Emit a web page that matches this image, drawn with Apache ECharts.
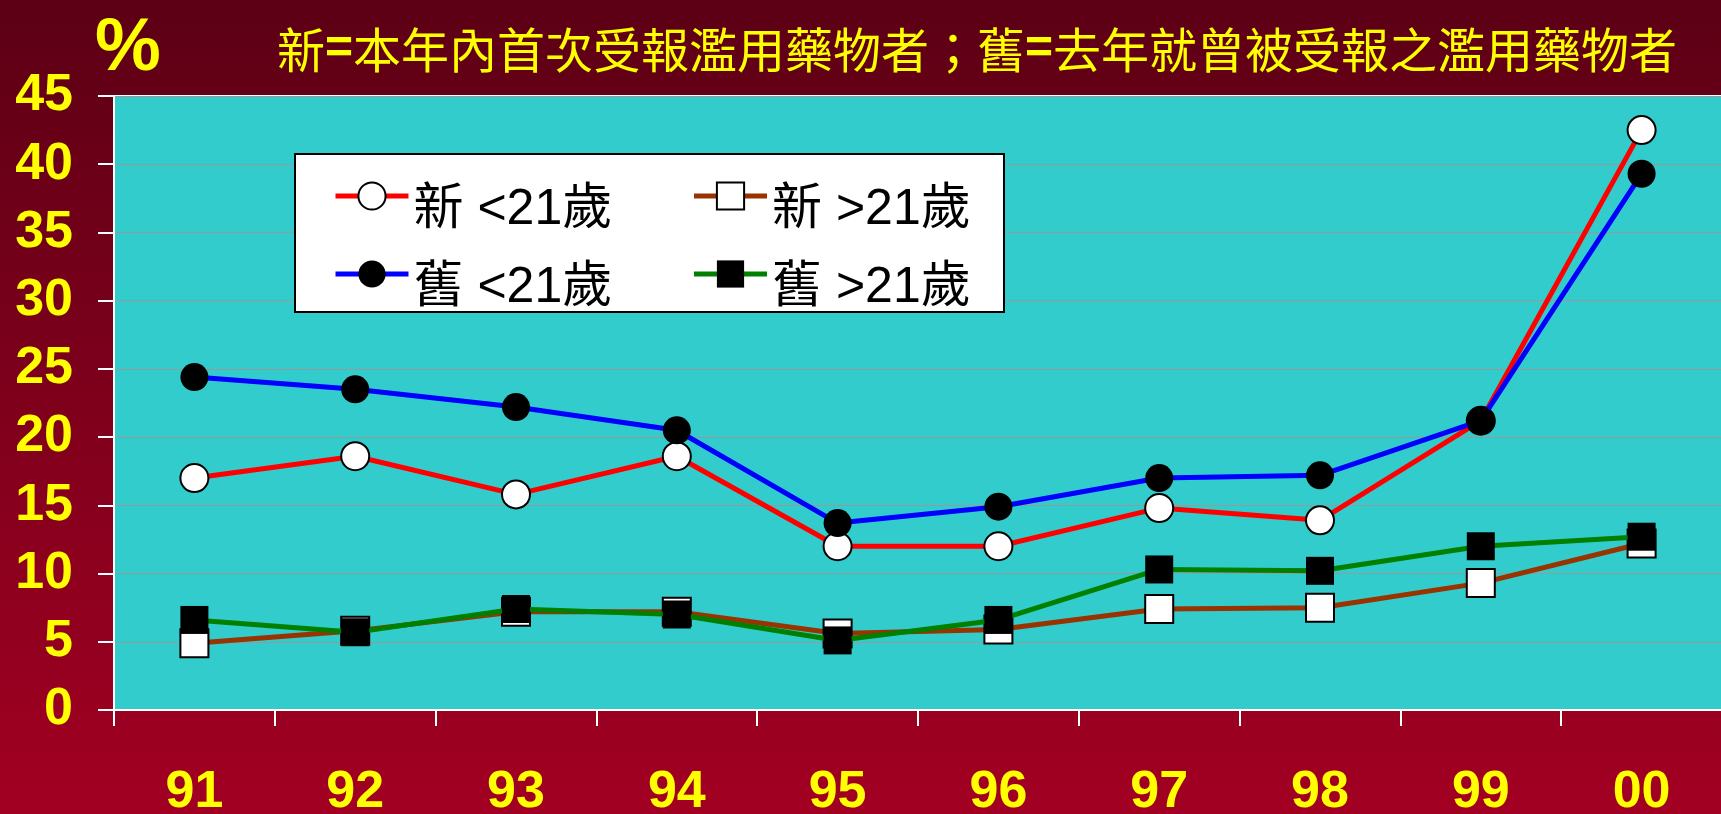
<!DOCTYPE html>
<html>
<head>
<meta charset="utf-8">
<script src="https://cdn.jsdelivr.net/npm/echarts@6/dist/echarts.min.js"></script>
<style>
html,body{margin:0;padding:0;background:#7a001b;}
#chart{width:1721px;height:814px;}
</style>
</head>
<body>
<div id="chart"></div>
<script>
// ---- data ----
const years = ['91','92','93','94','95','96','97','98','99','00'];
const seriesNames = ['新 <21歲','新 >21歲','舊 <21歲','舊 >21歲'];
const newUnder21 = [17.0, 18.6, 15.8, 18.6, 12.0, 12.0, 14.8, 13.9, 21.2, 42.5];
const newOver21  = [4.9, 5.8, 7.2, 7.2, 5.6, 5.9, 7.4, 7.5, 9.3, 12.2];
const oldUnder21 = [24.4, 23.5, 22.2, 20.5, 13.7, 14.9, 17.0, 17.2, 21.2, 39.3];
const oldOver21  = [6.6, 5.7, 7.4, 7.0, 5.1, 6.6, 10.3, 10.2, 12.0, 12.7];
const yTicks = {min: 0, max: 45, interval: 5};
const unitText = '%';
const noteText = '{a|新}{b|=}{a|本年內首次受報濫用藥物者；舊}{b|=}{a|去年就曾被受報之濫用藥物者}';

const latin = '"Liberation Sans", Arial, "Noto Sans CJK TC", sans-serif';
const yellow = '#FFFF00';

const chart = echarts.init(document.getElementById('chart'), null, {renderer: 'canvas'});

function lineSeries(name, data, color, symbol, fill, border, z) {
  return {
    name: name,
    type: 'line',
    data: data,
    z: z,
    symbol: symbol,
    symbolSize: 28,
    showAllSymbol: true,
    lineStyle: {color: color, width: 5},
    itemStyle: {color: fill, borderColor: border, borderWidth: border ? 2 : 0},
    emphasis: {disabled: true}
  };
}

const legendText = {
  color: '#000', fontSize: 50, fontFamily: latin,
  rich: {
    t: {color: '#000', fontSize: 50, fontFamily: latin, lineHeight: 40,
        width: 240, padding: [28, 0, 0, 0]}
  }
};

function legendAt(names, top) {
  return {
    data: names, left: 333, top: top, padding: 0,
    itemWidth: 73, itemHeight: 34, itemGap: 38, z: 6,
    formatter: '{t|{name}}',
    textStyle: legendText,
    lineStyle: {width: 5}
  };
}

chart.setOption({
  animation: false,
  backgroundColor: {
    type: 'linear', x: 0, y: 0, x2: 0, y2: 1,
    colorStops: [{offset: 0, color: '#5c0015'}, {offset: 1, color: '#a20022'}]
  },
  title: [
    {text: unitText, left: 90, top: 8,
     textStyle: {color: yellow, fontSize: 74, fontWeight: 'bold', fontFamily: latin}},
    {text: noteText, left: 272, top: 21,
     textStyle: {rich: {
       a: {color: yellow, fontSize: 48, fontFamily: '"Noto Sans CJK TC", sans-serif', fontWeight: 'normal'},
       b: {color: yellow, fontSize: 48, fontFamily: latin, fontWeight: 'bold'}
     }}}
  ],
  grid: {
    left: 114, top: 96, right: -1, bottom: 104,
    outerBoundsMode: 'none', containLabel: false,
    show: true, backgroundColor: '#33CCCC', borderColor: '#ffffff', borderWidth: 2
  },
  graphic: [{
    type: 'rect', z: 5,
    shape: {x: 295, y: 154, width: 709, height: 158},
    style: {fill: '#ffffff', stroke: '#000000', lineWidth: 2}
  }],
  legend: [
    legendAt([seriesNames[0], seriesNames[1]], 157),
    legendAt([seriesNames[2], seriesNames[3]], 235)
  ],
  xAxis: {
    type: 'category',
    data: years,
    boundaryGap: true,
    axisLine: {lineStyle: {color: '#ffffff', width: 2}},
    axisTick: {show: true, length: 16, lineStyle: {color: '#ffffff', width: 2}},
    axisLabel: {color: yellow, fontSize: 52, fontWeight: 'bold', fontFamily: latin, margin: 57},
    splitLine: {show: false}
  },
  yAxis: {
    type: 'value',
    min: yTicks.min, max: yTicks.max, interval: yTicks.interval,
    axisLine: {show: true, lineStyle: {color: '#ffffff', width: 2}},
    axisTick: {show: true, length: 16, lineStyle: {color: '#ffffff', width: 2}},
    axisLabel: {color: yellow, fontSize: 52, fontWeight: 'bold', fontFamily: latin, margin: 41},
    splitLine: {show: true, lineStyle: {color: '#999999', width: 1}}
  },
  series: [
    lineSeries(seriesNames[0], newUnder21, '#FF0000', 'circle', '#ffffff', '#000000', 2),
    lineSeries(seriesNames[1], newOver21, '#993300', 'rect', '#ffffff', '#000000', 2),
    lineSeries(seriesNames[2], oldUnder21, '#0000FF', 'circle', '#000000', null, 3),
    lineSeries(seriesNames[3], oldOver21, '#008000', 'rect', '#000000', null, 3)
  ]
});
</script>
</body>
</html>
